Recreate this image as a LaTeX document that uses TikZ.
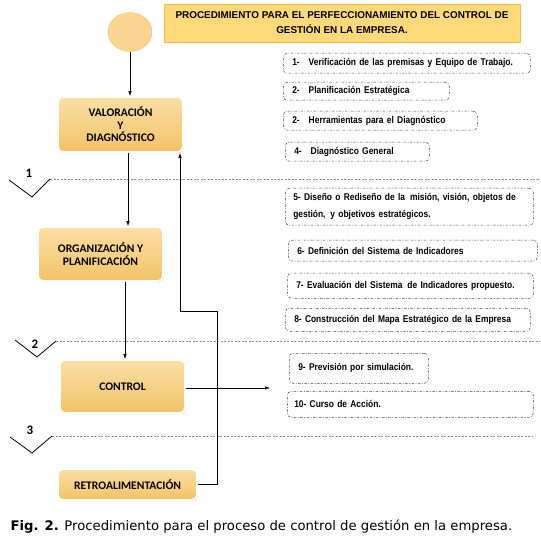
\documentclass[tikz,border=0pt]{standalone}
\usepackage{fontspec}
\setmainfont{Liberation Sans}
\newfontfamily\boxfont{Carlito}
\newfontfamily\stepfont[FakeStretch=0.86]{Liberation Sans}
\newfontfamily\capfont{DejaVu Sans}
\usetikzlibrary{shapes.geometric,shadows,arrows.meta}
\definecolor{circfill}{RGB}{252,212,146}
\definecolor{circline}{RGB}{240,192,125}
\definecolor{titlefill}{RGB}{255,217,122}
\definecolor{titleline}{RGB}{246,186,70}
\definecolor{boxtop}{RGB}{251,223,166}
\definecolor{boxbot}{RGB}{242,195,102}
\begin{document}
\begin{tikzpicture}[x=1pt,y=-1pt,
		phase/.style={rounded corners=5pt,top color=boxtop,bottom color=boxbot,draw=white,line width=1.8pt,
			drop shadow={shadow xshift=0.8pt,shadow yshift=-1.2pt,opacity=0.35,fill=black!60},
			align=center,text=black,font=\boxfont\bfseries\fontsize{11.6}{12.5}\selectfont},
		stepbox/.style={draw=black!75,line width=0.5pt,dash pattern=on 2.5pt off 1.5pt on 0.8pt off 1.5pt,
			rounded corners=4pt,anchor=north west,inner xsep=9pt,inner ysep=0pt,align=left,
			font=\stepfont\bfseries\fontsize{9.8}{10}\selectfont},
		sep/.style={draw=black!45,dash pattern=on 2pt off 1.5pt,line width=0.6pt},
		vee/.style={line width=0.8pt},
		num/.style={font=\boxfont\bfseries\fontsize{13}{14}\selectfont},
		arr/.style={-{Latex[length=5pt,width=3.5pt]},line width=0.6pt}
	]
		\useasboundingbox (0,0) rectangle (541,540);
		% start and title
		\node[ellipse,draw=circline,fill=circfill,minimum width=44pt,minimum height=39pt,inner sep=0pt] (S) at (130,32) {};
		\node[draw=titleline,fill=titlefill,line width=0.8pt,minimum width=356pt,minimum height=38pt,align=center,
			drop shadow={shadow xshift=0.6pt,shadow yshift=-0.8pt,opacity=0.2},
			font=\bfseries\fontsize{9.9}{15}\selectfont] (T) at (342,23) {PROCEDIMIENTO PARA EL PERFECCIONAMIENTO DEL CONTROL DE\\GESTIÓN EN LA EMPRESA.};
		% phases
		\node[phase,minimum width=125pt,minimum height=55pt] (V) at (120.5,124.5) {VALORACIÓN\\Y\\DIAGNÓSTICO};
		\node[phase,minimum width=125pt,minimum height=54pt,font=\boxfont\bfseries\fontsize{11.6}{13}\selectfont] (O) at (100.5,254) {ORGANIZACIÓN Y\\PLANIFICACIÓN};
		\node[phase,minimum width=125pt,minimum height=53pt] (K) at (122.5,386.5) {CONTROL};
		\node[phase,minimum width=139pt,minimum height=31pt] (R) at (127.5,484.5) {RETROALIMENTACIÓN};
		% separators
		\draw[sep] (50,179) -- (540,179);
		\draw[sep] (56,341) -- (540,341);
		\draw[sep] (52,436) -- (533,436);
		\draw[vee] (9,180) -- (32,197) -- (50,179);
		\draw[vee] (15,340) -- (37,357) -- (56,341);
		\draw[vee] (10,437) -- (32,453) -- (52,436);
		\node[num] (N1) at (29,173) {1};
		\node[num] (N2) at (35,344) {2};
		\node[num] (N3) at (30,430) {3};
		% steps
		\node[stepbox,minimum width=247pt,minimum height=20pt,text width=229pt] (P1) at (283,53) {1-\hspace{9pt}Verificación de las premisas y Equipo de Trabajo.};
		\node[stepbox,minimum width=166pt,minimum height=18pt,text width=148pt] (P2) at (283,82) {2-\hspace{9pt}Planificación Estratégica};
		\node[stepbox,minimum width=194pt,minimum height=19pt,text width=176pt] (P3) at (283,111) {2-\hspace{9pt}Herramientas para el Diagnóstico};
		\node[stepbox,minimum width=144pt,minimum height=19pt,text width=126pt] (P4) at (285,142) {4-\hspace{9pt}Diagnóstico General};
		\node[stepbox,minimum width=248pt,minimum height=37pt,text width=232pt,inner xsep=8pt,font=\stepfont\bfseries\fontsize{9.8}{17}\selectfont] (P5) at (285,188) {5- Diseño o Rediseño de la\, misión, visión, objetos de\\gestión,\, y objetivos estratégicos.};
		\node[stepbox,minimum width=249pt,minimum height=21pt,text width=231pt] (P6) at (288,240) {6- Definición del Sistema de Indicadores};
		\node[stepbox,minimum width=246pt,minimum height=25pt,text width=228pt] (P7) at (287,273) {7- Evaluación del Sistema\, de Indicadores propuesto.};
		\node[stepbox,minimum width=245pt,minimum height=23pt,text width=227pt] (P8) at (285,308) {8- Construcción del Mapa Estratégico de la Empresa};
		\node[stepbox,minimum width=139pt,minimum height=30pt,text width=121pt] (P9) at (289,353) {9- Previsión por simulación.};
		\node[stepbox,minimum width=246pt,minimum height=26pt,text width=232pt,inner xsep=7pt] (P10) at (287,391) {10- Curso de Acción.};
		% connectors
		\coordinate (vo) at ([xshift=7.5pt]V.south);
		\coordinate (ok) at ([xshift=2.5pt]K.north);
		\coordinate (vf) at ([xshift=59.5pt]V.south);
		\coordinate (F) at (217,311);
		\coordinate (E) at (270,388);
		\draw[arr] (S) -- (S |- V.north);
		\draw[arr] (vo) -- (vo |- O.north);
		\draw[arr] (O.south -| ok) -- (ok);
		\draw[arr] (K.east |- E) -- (E);
		\draw[arr] (R.east) -| (F) -| (vf);
		% caption
		\node[anchor=west,font=\capfont\fontsize{13.2}{14}\selectfont] (cap) at (7,527) {\textbf{Fig. 2.} Procedimiento para el proceso de control de gestión en la empresa.};
	\end{tikzpicture}
\end{document}
